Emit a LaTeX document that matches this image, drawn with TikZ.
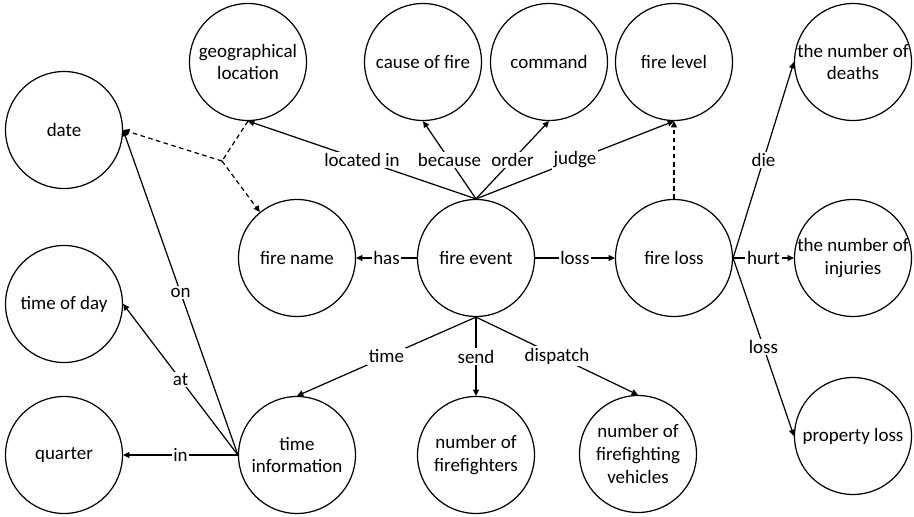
\documentclass[tikz,border=0pt]{standalone}
\usepackage{fontspec}
\setmainfont{Carlito}
\usepackage{tikz}
\usetikzlibrary{arrows.meta}

\begin{document}
\begin{tikzpicture}[x=0.02cm,y=-0.02cm,line width=0.7pt,
		>={Triangle[length=3.6pt,width=3.4pt]},
		ent/.style={circle,draw,minimum size=2.34cm,inner sep=-4pt,align=center,font=\fontsize{10.8}{13}\selectfont},
		lbl/.style={fill=white,inner sep=1pt,font=\fontsize{10.8}{13}\selectfont},
		dsh/.style={dash pattern=on 2.6pt off 2pt}]
			\useasboundingbox (0,0) rectangle (914,517);
			\foreach \n/\x/\y/\t in {date/64/130/date,geo/248/62/geographical\\location,cause/423/62/cause of fire,cmd/549/62/command,level/674/62/fire level,deaths/853/62/the number of\\deaths,fname/297/258/fire name,event/476/258/fire event,floss/674/258/fire loss,injuries/853/258/the number of\\injuries,tday/64/304/time of day,quarter/64/455/quarter,tinfo/297/455/time\\information,fighters/476/455/number of\\firefighters,vehicles/638/454/number of\\firefighting\\vehicles,ploss/853/436/property loss}{
				\node[ent] (\n) at (\x,\y) {\t};
			}
			
			\foreach \a/\b/\l in {event.north/geo.south/located in,event.north/cause.south/because,event.north/cmd.south/order,event.north/level.south/judge,event.west/fname.east/has,event.east/floss.west/loss,floss.east/injuries.west/hurt,floss.east/deaths.west/die,floss.east/ploss.west/loss,event.south/tinfo.north/time,event.south/fighters.north/send,event.south/vehicles.north/dispatch,tinfo.west/quarter.east/in,tinfo.west/tday.east/at,tinfo.west/date.east/on}{
				\draw[->] (\a) -- node[lbl] {\l} (\b);
			}
			
			% date and location make up the name
			\coordinate (fork) at (222,161);
			\draw[dsh] (geo.south) -- (fork);
			\draw[dsh,->] (fork) -- (date.east);
			\draw[dsh,->] (fork) -- (fname.129);
			\draw[dsh,->] (floss.north) -- (level.south);
		\end{tikzpicture}
\end{document}
